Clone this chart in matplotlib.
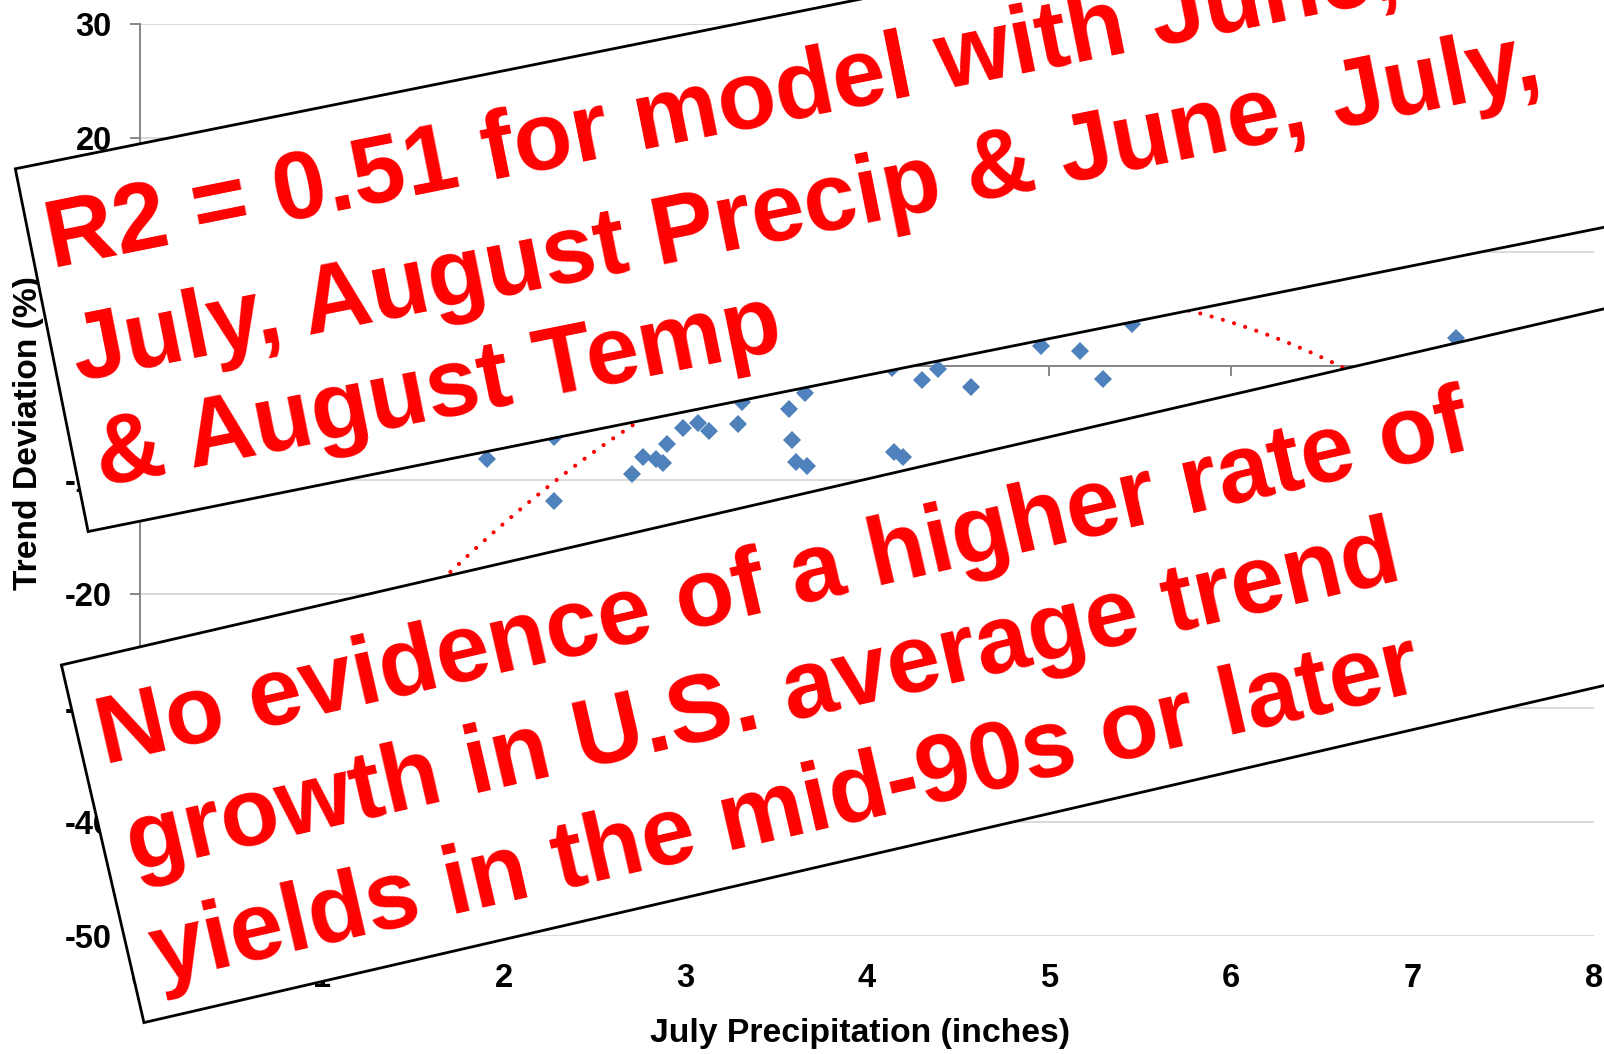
import numpy as np
import matplotlib
matplotlib.use("Agg")
import matplotlib.pyplot as plt
from matplotlib.patches import Polygon

# ---------------- data ----------------
july_precip = [1.91, 2.28, 2.28, 2.705, 2.77, 2.84, 2.88, 2.90, 2.99, 3.07,
               3.13, 3.29, 3.31, 3.57, 3.59, 3.61, 3.66, 3.67, 4.15, 4.20,
               4.14, 4.30, 4.39, 4.57, 4.955, 5.17, 5.30, 5.46, 7.24]
trend_dev = [-8.2, -11.8, -6.2, -9.5, -8.0, -8.2, -8.5, -6.8, -5.4, -5.0,
             -5.7, -5.1, -3.2, -3.8, -6.5, -8.4, -2.4, -8.8, -7.5, -8.0,
             -0.2, -1.2, -0.3, -1.8, 1.75, 1.3, -1.1, 3.7, 2.5]
# polynomial (2nd order) trend line coefficients, highest power first
trend_coef = [-2.35, 23.22, -50.87]
trend_x_span = [1.0, 7.24]

x_ticks = [0, 1, 2, 3, 4, 5, 6, 7, 8]
x_tick_labels = ['0', '1', '2', '3', '4', '5', '6', '7', '8']
y_ticks = [-50, -40, -30, -20, -10, 0, 10, 20, 30]
y_tick_labels = ['-50', '-40', '-30', '-20', '-10', '0', '10', '20', '30']
x_label = 'July Precipitation (inches)'
y_label = 'Trend Deviation (%)'

box1_lines = ['R2 = 0.51 for model with June,',
              'July, August Precip & June, July,',
              '& August Temp']
box2_lines = ['No evidence of a higher rate of',
              'growth in U.S. average trend',
              'yields in the mid-90s or later']

# ---------------- figure ----------------
plt.rcParams['font.family'] = ['Liberation Sans', 'DejaVu Sans']
plt.rcParams['axes.unicode_minus'] = False

W, H = 1604, 1054
fig = plt.figure(figsize=(W / 100, H / 100), dpi=100)
fig.patch.set_facecolor('white')

AX_L, AX_R, AX_T, AX_B = 140, 1594, 24, 936
ax = fig.add_axes([AX_L / W, 1 - AX_B / H, (AX_R - AX_L) / W, (AX_B - AX_T) / H])
ax.set_xlim(0, 8)
ax.set_ylim(-50, 30)

axis_grey = '#868686'
ax.grid(axis='y', color='#D9D9D9', lw=1.4)
ax.set_axisbelow(True)
for s in ['top', 'right']:
    ax.spines[s].set_visible(False)
ax.spines['left'].set_color(axis_grey)
ax.spines['left'].set_linewidth(1.4)
ax.spines['bottom'].set_position(('data', 0))
ax.spines['bottom'].set_color(axis_grey)
ax.spines['bottom'].set_linewidth(1.4)

ax.set_yticks(y_ticks)
ax.set_yticklabels(y_tick_labels, fontsize=23.5, fontweight='bold')
ax.tick_params(axis='y', direction='out', length=7.2, width=1.4,
               color=axis_grey, pad=13.2)
ax.set_xticks(x_ticks)
ax.tick_params(axis='x', direction='out', length=7.2, width=1.4,
               color=axis_grey, labelbottom=False)

# tick labels at the low position (below the plot area)
sec = ax.secondary_xaxis(0)
sec.set_xticks(x_ticks)
sec.set_xticklabels(x_tick_labels, fontsize=23.5, fontweight='bold')
sec.tick_params(length=0, pad=19.5)
sec.spines['bottom'].set_visible(False)

ax.set_xlabel(x_label, fontsize=24.3, fontweight='bold')
ax.xaxis.set_label_coords(0.495, -0.090)
ax.set_ylabel(y_label, fontsize=24.2, fontweight='bold')
ax.yaxis.set_label_coords(-0.066, 0.5515)

# data
ax.plot(july_precip, trend_dev, ls='none', marker='D', ms=8.7, mew=0,
        color='#4F81BD', zorder=3)
tx = np.linspace(trend_x_span[0], trend_x_span[1], 400)
ax.plot(tx, np.polyval(trend_coef, tx), color='#FF0000', lw=3,
        linestyle=(0, (0.01, 2.8)), dash_capstyle='round', zorder=4)

# ---------------- rotated call-out boxes ----------------
def frame(theta):
    t = np.radians(theta)
    return np.array([np.cos(t), -np.sin(t)]), np.array([np.sin(t), np.cos(t)])

def to_fig(p):
    return (p[0] / W, 1 - p[1] / H)

def callout(p0, theta, height, lines, anchors, size):
    u, n = frame(theta)
    p0 = np.array(p0, dtype=float)
    w = 2400
    corners = [p0, p0 + w * u, p0 + w * u + height * n, p0 + height * n]
    fig.add_artist(Polygon([to_fig(c) for c in corners], closed=True,
                           facecolor='white', edgecolor='black', lw=2.0,
                           transform=fig.transFigure, zorder=5))
    for s, (a, d) in zip(lines, anchors):
        x, y = to_fig(p0 + a * u + d * n)
        fig.text(x, y, s, rotation=theta, rotation_mode='anchor',
                 ha='left', va='baseline', fontsize=size, fontweight='bold',
                 color='#FF0000', zorder=6, transform=fig.transFigure)

callout((15.3, 168.8), 11.35, 370, box1_lines,
        [(16, 105), (20, 221), (22, 328)], 69)
callout((61.4, 665), 13.0, 367, box2_lines,
        [(20, 107), (24, 218), (23, 331)], 69.2)

fig.savefig('out.png', dpi=100, facecolor='white')
